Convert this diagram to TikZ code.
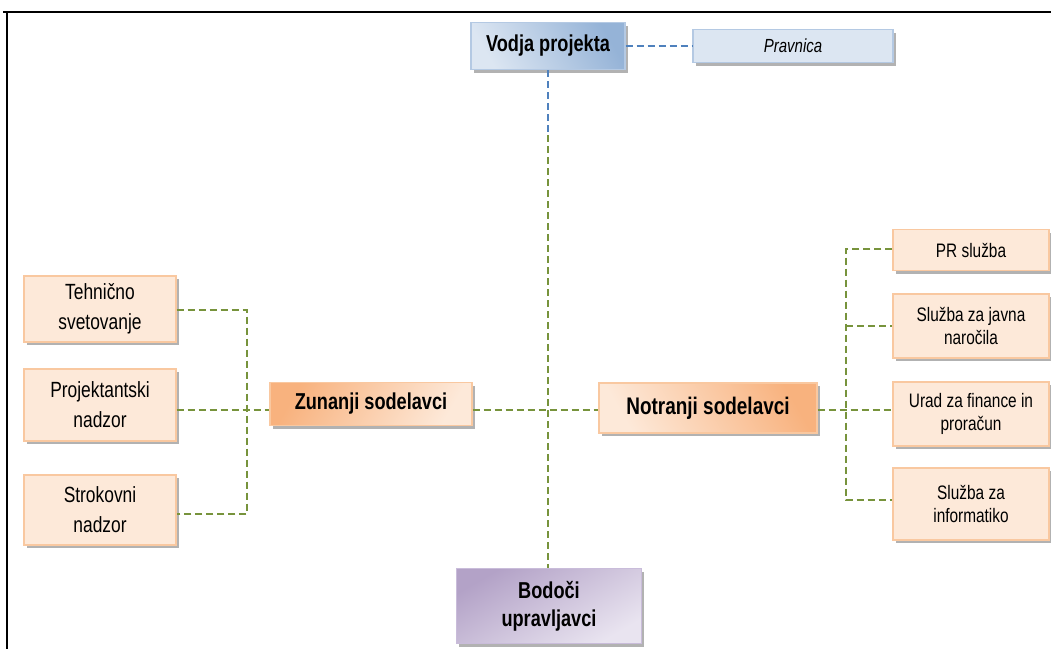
\documentclass[tikz,border=0pt]{standalone}
\usepackage{fontspec}
\setmainfont{Liberation Sans}[FakeStretch=0.79]
\usetikzlibrary{shadows}
\definecolor{peach}{HTML}{FDE9D9}
\definecolor{peachborder}{HTML}{F9C8A0}
\definecolor{orangeD}{HTML}{F8B27E}
\definecolor{blueL}{HTML}{DCE6F2}
\definecolor{blueD}{HTML}{95B3D7}
\definecolor{blueBorder}{HTML}{B4C9E3}
\definecolor{purpleL}{HTML}{E9E4F0}
\definecolor{purpleD}{HTML}{B3A2C7}
\definecolor{purpleBorder}{HTML}{C9BCDA}
\definecolor{lineGreen}{HTML}{77933C}
\definecolor{lineBlue}{HTML}{4F81BD}
\tikzset{
  shad/.style={drop shadow={shadow xshift=2.5pt,shadow yshift=-3pt,fill=black!30,opacity=1}},
  basebox/.style={inner sep=0pt, align=center, line width=1.2pt, shad, text=black},
  leftbox/.style={basebox, draw=peachborder, fill=peach, minimum width=152pt, font=\fontsize{22}{30}\selectfont},
  rightbox/.style={basebox, draw=peachborder, fill=peach, minimum width=156pt, font=\fontsize{19.5}{23.5}\selectfont},
  headbox/.style={basebox, font=\fontsize{23}{28}\selectfont\bfseries},
  gline/.style={draw=lineGreen, line width=1.3pt, dash pattern=on 7pt off 4pt},
  bline/.style={draw=lineBlue, line width=1.3pt, dash pattern=on 7pt off 4pt},
}
\begin{document}
\begin{tikzpicture}[x=1pt,y=-1pt]
\useasboundingbox (0,0) rectangle (1051,649);
% frame
\draw[line width=1.5pt, black] (3,12) -- (1051,12);
\draw[line width=1.5pt, black] (7,11.25) -- (7,649);

% top
\node[headbox, draw=blueBorder, minimum width=154pt, minimum height=47pt,
      left color=blueL, right color=blueD, shading angle=120] (vodja) at (548,46) {Vodja projekta};
\node[basebox, draw=blueBorder, fill=blueL, minimum width=200pt, minimum height=33pt,
      font=\fontsize{19}{22}\selectfont\itshape] (prav) at (793,46) {Pravnica};

% middle
\node[headbox, draw=peachborder, minimum width=202pt, minimum height=43pt,
      left color=orangeD, right color=peach, shading angle=60] (zun) at (371,404) {Zunanji sodelavci};
\node[headbox, draw=peachborder, minimum width=218pt, minimum height=50pt,
      left color=peach, right color=orangeD, shading angle=120, font=\fontsize{24}{28}\selectfont\bfseries] (notr) at (708,408) {Notranji sodelavci};

% left column
\node[leftbox, minimum height=66pt] (teh) at (100,309) {Tehnično\\svetovanje};
\node[leftbox, minimum height=72pt] (proj) at (100,405) {Projektantski\\nadzor};
\node[leftbox, minimum height=70pt] (strok) at (100,510) {Strokovni\\nadzor};

% right column
\node[rightbox, minimum height=41pt] (pr) at (971,250) {PR služba};
\node[rightbox, minimum height=64pt] (javna) at (971,326) {Služba za javna\\naročila};
\node[rightbox, minimum height=64pt] (urad) at (971,414) {Urad za finance in\\proračun};
\node[rightbox, minimum height=72pt] (info) at (971,504) {Služba za\\informatiko};

% bottom
\node[headbox, draw=purpleBorder, minimum width=185pt, minimum height=75pt,
      left color=purpleD, right color=purpleL, shading angle=30] (bod) at (549,606) {Bodoči\\upravljavci};

% helper coordinates
\coordinate (vmid) at (548,135);
\coordinate (row) at (548,410);
\coordinate (lbar) at (247,410);
\coordinate (rbar) at (846,410);

% connectors
\draw[bline] (vodja.south -| vmid) -- (vmid);
\draw[bline] (vodja.east) -- (prav.west);
\draw[gline] (vmid) -- (vmid |- bod.north);

\draw[gline] (teh.east |- 0,310) -| (lbar) |- (strok.east |- 0,514);
\draw[gline] (proj.east |- row) -- (zun.west |- row);
\draw[gline] (zun.east |- row) -- (notr.west |- row);
\draw[gline] (notr.east |- row) -- (urad.west |- row);
\draw[gline] (pr.west |- 0,249) -| (rbar) |- (info.west |- 0,500);
\draw[gline] (rbar |- javna.west) -- (javna.west);
\end{tikzpicture}
\end{document}
